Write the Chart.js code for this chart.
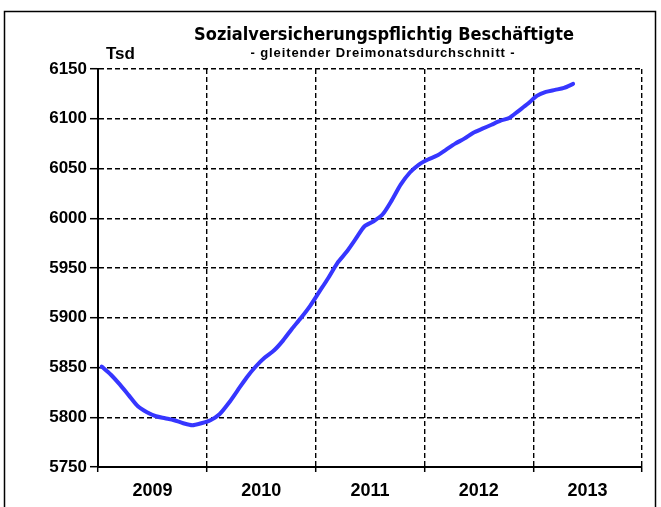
<!DOCTYPE html>
<html>
<head>
<meta charset="utf-8">
<script src="https://cdn.jsdelivr.net/npm/chart.js@4.4.1/dist/chart.umd.min.js"></script>
<style>
  html, body { margin: 0; padding: 0; background: #fff; }
  #wrap { width: 661px; height: 507px; position: relative; }
</style>
</head>
<body>
<div id="wrap"><canvas id="chart"></canvas></div>
<script>
// labels and values (Tsd, monthly, Jan 2009 .. May 2013)
var years = ['2009', '2010', '2011', '2012', '2013'];
var yMin = 5750, yMax = 6150, yStep = 50;
var employed = [
  5851, 5843, 5833, 5822, 5811, 5805, 5801, 5799, 5797, 5794, 5792, 5794,
  5797, 5803, 5814, 5827, 5840, 5851, 5860, 5867, 5877, 5889, 5900, 5912,
  5926, 5940, 5955, 5966, 5979, 5992, 5997, 6004, 6018, 6034, 6046, 6054,
  6059, 6063, 6069, 6075, 6080, 6086, 6090, 6094, 6098, 6101, 6108, 6115,
  6123, 6127, 6129, 6131, 6135
];

var title = 'Sozialversicherungspflichtig Beschäftigte';
var subtitle = '- gleitender Dreimonatsdurchschnitt -';
var unit = 'Tsd';

var boldFont = '"Liberation Sans", Arial, sans-serif';
var narrowFont = '"DejaVu Sans Condensed", "Liberation Sans", sans-serif';

var points = employed.map(function(v, i) {
  return { x: i + 0.4, y: v };
});

// frame + headings drawn onto the canvas
var decor = {
  id: 'decor',
  beforeDraw: function(chart) {
    var ctx = chart.ctx;
    ctx.save();
    ctx.fillStyle = '#fff';
    ctx.fillRect(0, 0, chart.width, chart.height);
    ctx.strokeStyle = '#000';
    ctx.lineWidth = 1.5;
    ctx.strokeRect(4.5, 11.5, 651, 520);
    ctx.restore();
  },
  afterDraw: function(chart) {
    var ctx = chart.ctx;
    ctx.save();
    ctx.fillStyle = '#000';
    ctx.textBaseline = 'alphabetic';
    ctx.textAlign = 'center';
    ctx.font = 'bold 18px ' + narrowFont;
    ctx.fillText(title, 384, 40);
    ctx.font = 'bold 13px ' + boldFont;
    ctx.letterSpacing = '0.9px';
    ctx.fillText(subtitle, 383, 57);
    ctx.letterSpacing = '0px';
    ctx.textAlign = 'left';
    ctx.font = 'bold 17px ' + boldFont;
    ctx.fillText(unit, 106, 59);
    ctx.restore();
  }
};

var ctx = document.getElementById('chart').getContext('2d');
var chart = new Chart(ctx, {
  type: 'line',
  data: {
    datasets: [{
      data: points,
      borderColor: '#3636ff',
      borderWidth: 4,
      pointRadius: 0,
      tension: 0.25,
      borderCapStyle: 'round',
      borderJoinStyle: 'round',
      fill: false
    }]
  },
  options: {
    responsive: true,
    maintainAspectRatio: false,
    animation: false,
    layout: {
      padding: { left: 0, right: 19, top: 69, bottom: 0 }
    },
    plugins: {
      legend: { display: false },
      tooltip: { enabled: false }
    },
    scales: {
      x: {
        type: 'linear',
        min: 0,
        max: 60,
        afterBuildTicks: function(scale) {
          var t = [];
          for (var v = 0; v <= 60; v += 6) t.push({ value: v });
          scale.ticks = t;
        },
        afterFit: function(scale) { scale.height = 40; },
        ticks: {
          autoSkip: false,
          maxRotation: 0,
          padding: 8,
          color: '#000',
          font: { family: boldFont, size: 18, weight: 'bold' },
          callback: function(v) {
            return v % 12 === 6 ? years[(v - 6) / 12] : '';
          }
        },
        grid: {
          color: function(c) {
            return c.tick && c.tick.value % 12 === 6 ? 'rgba(0,0,0,0)' : '#000';
          },
          lineWidth: 1.4,
          tickLength: 5,
          tickWidth: 1.5
        },
        border: { display: true, color: '#000', width: 2, dash: [5, 3] }
      },
      y: {
        min: yMin,
        max: yMax,
        afterFit: function(scale) { scale.width = 98; },
        ticks: {
          stepSize: yStep,
          padding: 3,
          color: '#000',
          font: { family: boldFont, size: 17, weight: 'bold' },
          callback: function(v) { return String(v); }
        },
        grid: {
          color: '#000',
          lineWidth: 1.4,
          tickLength: 8,
          tickWidth: 1.5
        },
        border: { display: true, color: '#000', width: 2, dash: [5, 3] }
      }
    }
  },
  plugins: [decor]
});
</script>
</body>
</html>
